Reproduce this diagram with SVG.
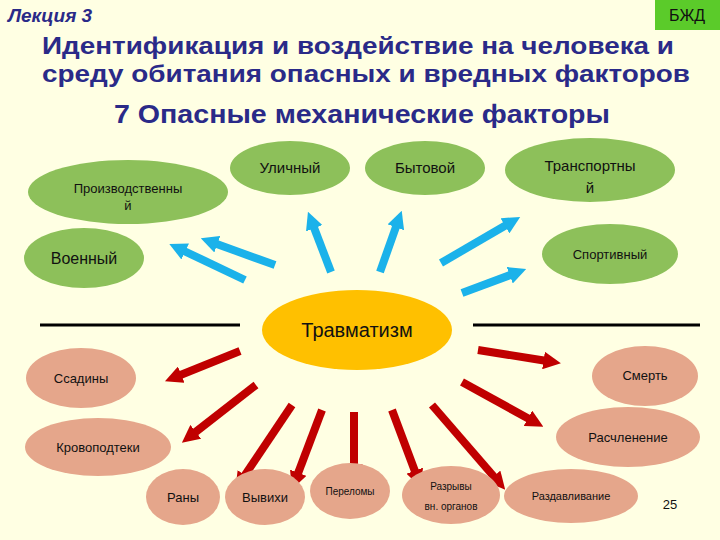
<svg xmlns="http://www.w3.org/2000/svg" width="720" height="540" viewBox="0 0 720 540">
<defs>
<marker id="hb" viewBox="0 0 10 10" refX="2" refY="5" markerWidth="2.2" markerHeight="2.2" orient="auto"><path d="M0,0 L10,5 L0,10 Z" fill="#1BB2EA"/></marker>
<marker id="hr" viewBox="0 0 10 10" refX="2" refY="5" markerWidth="2.2" markerHeight="2.2" orient="auto"><path d="M0,0 L10,5 L0,10 Z" fill="#C00000"/></marker>
</defs>
<style>
text{font-family:"Liberation Sans",Arial,sans-serif;text-anchor:middle}
.g{fill:#8DC05A}
.r{fill:#E5A68B}
.t{font-size:15px;fill:#111}
.s{font-size:12px;fill:#111}
.ttl{font-size:23px;font-weight:bold;fill:#2A2A88}
.b{stroke:#1BB2EA;stroke-width:8;marker-end:url(#hb)}
.rd{stroke:#C00000;stroke-width:8;marker-end:url(#hr)}
</style>
<rect width="720" height="540" fill="#FFFFE3"/>
<text x="8" y="22" style="text-anchor:start;font-size:19px;font-weight:bold;font-style:italic;fill:#2A2A88">Лекция 3</text>
<rect x="655" y="0" width="65" height="30" fill="#5BCB2A"/>
<text x="687" y="21" style="font-size:16px;fill:#111">БЖД</text>
<g class="ttl">
<text x="358" y="54" textLength="632" lengthAdjust="spacingAndGlyphs">Идентификация и воздействие на человека и</text>
<text x="366" y="82" textLength="648" lengthAdjust="spacingAndGlyphs">среду обитания опасных и вредных факторов</text>
<text x="362" y="123" style="font-size:25px" textLength="496" lengthAdjust="spacingAndGlyphs">7 Опасные механические факторы</text>
</g>
<g id="connectors">
<line x1="40" y1="325" x2="240" y2="325" stroke="#000" stroke-width="3"/>
<line x1="473" y1="325" x2="700" y2="325" stroke="#000" stroke-width="3"/>
<line class="b" x1="245" y1="280" x2="182" y2="250"/>
<line class="b" x1="275" y1="265" x2="214" y2="243"/>
<line class="b" x1="331" y1="272" x2="313" y2="225"/>
<line class="b" x1="380" y1="272" x2="397" y2="224"/>
<line class="b" x1="441" y1="263" x2="508" y2="224"/>
<line class="b" x1="462" y1="293" x2="513" y2="274"/>
<line class="rd" x1="240" y1="351" x2="178" y2="376"/>
<line class="rd" x1="256" y1="385" x2="193" y2="434"/>
<line class="rd" x1="292" y1="405" x2="243" y2="478"/>
<line class="rd" x1="322" y1="410" x2="297" y2="476"/>
<line class="rd" x1="354" y1="412" x2="354" y2="468"/>
<line class="rd" x1="392" y1="410" x2="416" y2="474"/>
<line class="rd" x1="432" y1="405" x2="496" y2="479"/>
<line class="rd" x1="462" y1="382" x2="531" y2="420"/>
<line class="rd" x1="478" y1="350" x2="547" y2="361"/>
</g>
<g id="n-ulichny"><ellipse class="g" cx="290" cy="168" rx="60" ry="27"/><text class="t" x="290" y="173">Уличный</text></g>
<g id="n-bytovoy"><ellipse class="g" cx="425" cy="168" rx="60" ry="27"/><text class="t" x="425" y="173">Бытовой</text></g>
<g id="n-transport"><ellipse class="g" cx="590" cy="170" rx="85" ry="32"/><text class="t" x="590" y="171">Транспортны</text><text class="t" x="590" y="193">й</text></g>
<g id="n-proizv"><ellipse class="g" cx="128" cy="192" rx="100" ry="32"/><text class="s" x="128" y="193" style="font-size:13px">Производственны</text><text class="s" x="128" y="210" style="font-size:13px">й</text></g>
<g id="n-voenny"><ellipse class="g" cx="84" cy="258" rx="60" ry="30"/><text class="t" x="84" y="264" style="font-size:16px">Военный</text></g>
<g id="n-sport"><ellipse class="g" cx="610" cy="254" rx="68" ry="30"/><text class="s" x="610" y="259" style="font-size:13px">Спортивный</text></g>
<g id="n-travm"><ellipse cx="357" cy="330" rx="95" ry="40" fill="#FFC000"/><text x="357" y="337" style="font-size:20px;fill:#111">Травматизм</text></g>
<g id="n-ssadiny"><ellipse class="r" cx="81" cy="378" rx="55" ry="30"/><text class="s" x="81" y="383" style="font-size:13px">Ссадины</text></g>
<g id="n-krovo"><ellipse class="r" cx="98" cy="447" rx="73" ry="29"/><text class="s" x="98" y="452" style="font-size:13px">Кровоподтеки</text></g>
<g id="n-rany"><ellipse class="r" cx="183" cy="497" rx="37" ry="28"/><text class="s" x="183" y="502" style="font-size:13px">Раны</text></g>
<g id="n-vyvihi"><ellipse class="r" cx="265" cy="497" rx="40" ry="28"/><text class="s" x="265" y="502" style="font-size:13px">Вывихи</text></g>
<g id="n-perelomy"><ellipse class="r" cx="350" cy="491" rx="40" ry="28"/><text class="s" x="350" y="495" style="font-size:10px">Переломы</text></g>
<g id="n-razryvy"><ellipse class="r" cx="451" cy="495" rx="49" ry="29"/><text class="s" x="451" y="490" style="font-size:10px">Разрывы</text><text class="s" x="451" y="510" style="font-size:10px">вн. органов</text></g>
<g id="n-razdav"><ellipse class="r" cx="571" cy="496" rx="67" ry="27"/><text class="s" x="571" y="500" style="font-size:11px">Раздавливание</text></g>
<g id="n-smert"><ellipse class="r" cx="645" cy="376" rx="53" ry="30"/><text class="s" x="645" y="380" style="font-size:13px">Смерть</text></g>
<g id="n-raschl"><ellipse class="r" cx="628" cy="437" rx="72" ry="30"/><text class="s" x="628" y="442" style="font-size:13px">Расчленение</text></g>
<text x="670" y="509" style="font-size:13px;fill:#111">25</text>
</svg>
